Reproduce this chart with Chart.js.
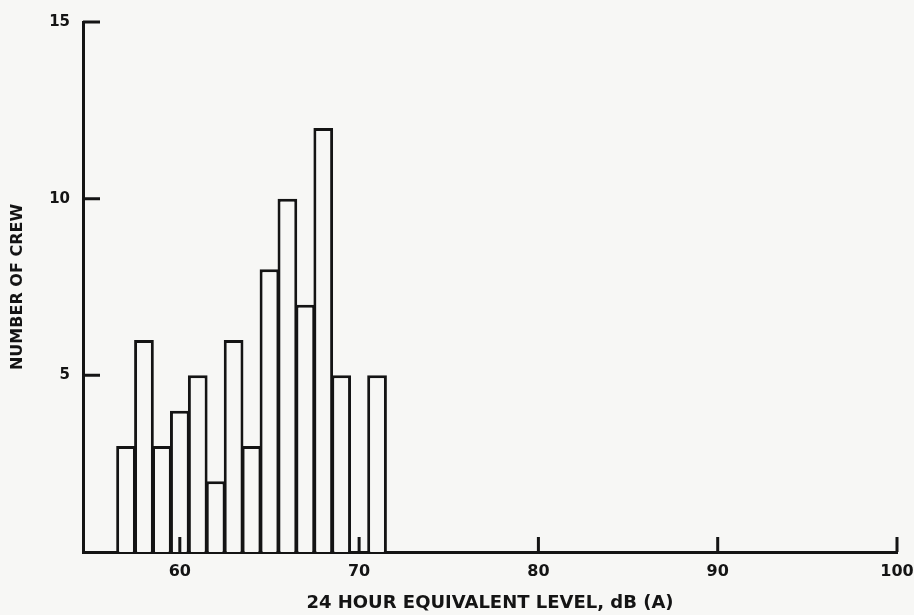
<!doctype html>
<html lang="en">

<head>
    <meta charset="utf-8">
    <title>Number of crew by 24 hour equivalent level</title>
    <script src="https://cdn.jsdelivr.net/npm/chart.js@4.4.0/dist/chart.umd.min.js"></script>
    <style>
        body { margin: 0; background: #f7f7f5; }
        canvas { display: block; }
    </style>
</head>

<body>

    <canvas id="chart" width="914" height="615"></canvas>

    <script>
        // histogram bins, 1 dB wide, centred on the level
        var levels = [57, 58, 59, 60, 61, 62, 63, 64, 65, 66, 67, 68, 69, 70, 71];
        var crew = [3, 6, 3, 4, 5, 2, 6, 3, 8, 10, 7, 12, 5, 0, 5];
        var xTicks = [60, 70, 80, 90, 100];
        var yTicks = [5, 10, 15];

        var ink = '#141414';
        var paper = '#f7f7f5';

        // ticks in the original point into the plot, so draw them here
        var inwardTicks = {
            id: 'inwardTicks',
            afterDraw: function (chart) {
                var ctx = chart.ctx;
                var a = chart.chartArea;
                var x = chart.scales.x, y = chart.scales.y;
                ctx.save();
                ctx.strokeStyle = ink;
                ctx.lineWidth = 3;
                ctx.beginPath();
                yTicks.forEach(function (v) {
                    var py = y.getPixelForValue(v);
                    ctx.moveTo(a.left, py);
                    ctx.lineTo(a.left + 17, py);
                });
                xTicks.forEach(function (v) {
                    var px = x.getPixelForValue(v);
                    ctx.moveTo(px, a.bottom);
                    ctx.lineTo(px, a.bottom - 15);
                });
                ctx.stroke();
                ctx.restore();
            }
        };

        new Chart(document.getElementById('chart').getContext('2d'), {
            type: 'bar',
            data: {
                datasets: [{
                    data: levels.map(function (l, i) { return { x: l, y: crew[i] }; }),
                    backgroundColor: paper,
                    borderColor: ink,
                    borderWidth: 3,
                    barPercentage: 1.1,
                    categoryPercentage: 1.0
                }]
            },
            options: {
                responsive: false,
                animation: false,
                layout: {
                    padding: { left: 0, right: 17, top: 18, bottom: 0 }
                },
                plugins: {
                    legend: { display: false },
                    tooltip: { enabled: false }
                },
                scales: {
                    x: {
                        type: 'linear',
                        min: 54.6,
                        max: 100,
                        offset: false,
                        z: 1,
                        afterBuildTicks: function (s) {
                            s.ticks = xTicks.map(function (v) { return { value: v }; });
                        },
                        afterFit: function (s) {
                            s.height = 63;
                            s.paddingLeft = 0;
                            s.paddingRight = 0;
                        },
                        grid: { display: false, drawTicks: false },
                        border: { display: true, color: ink, width: 3 },
                        ticks: {
                            color: ink,
                            padding: 10,
                            maxRotation: 0,
                            font: { family: 'DejaVu Sans', weight: 'bold', size: 16 }
                        },
                        title: {
                            display: true,
                            text: '24 HOUR EQUIVALENT LEVEL, dB (A)',
                            color: ink,
                            padding: { top: 0, bottom: 1 },
                            font: { family: 'DejaVu Sans', weight: 'bold', size: 18 }
                        }
                    },
                    y: {
                        min: 0,
                        max: 15,
                        z: 1,
                        afterFit: function (s) { s.width = 83; },
                        grid: { display: false, drawTicks: false },
                        border: { display: true, color: ink, width: 3 },
                        ticks: {
                            stepSize: 5,
                            color: ink,
                            padding: 13,
                            callback: function (v) { return v === 0 ? '' : v; },
                            font: { family: 'DejaVu Sans', weight: 'bold', size: 15 }
                        },
                        title: {
                            display: true,
                            text: 'NUMBER OF CREW',
                            color: ink,
                            padding: { top: 8, bottom: 0 },
                            font: { family: 'DejaVu Sans', weight: 'bold', size: 16 }
                        }
                    }
                }
            },
            plugins: [inwardTicks]
        });
    </script>

</body>

</html>
